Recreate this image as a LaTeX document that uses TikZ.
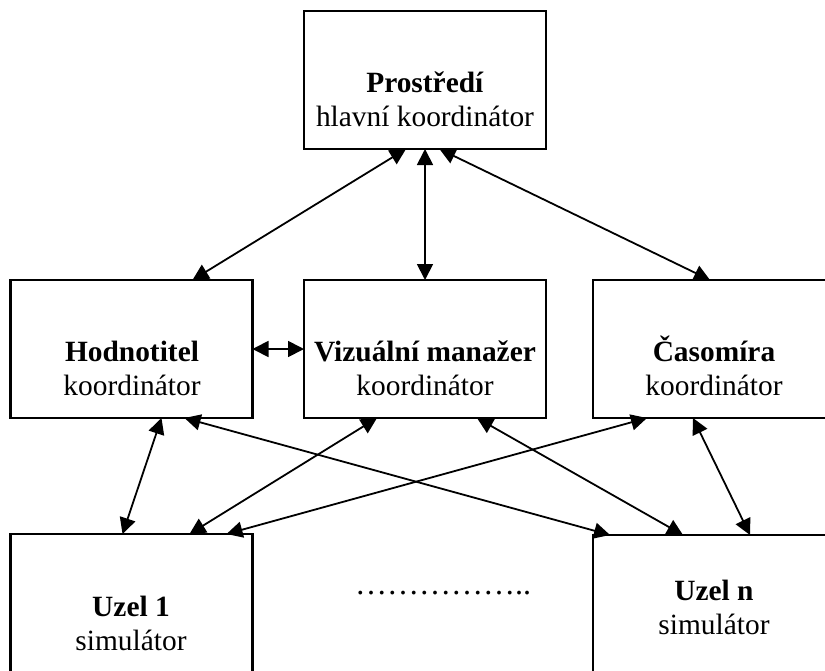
\documentclass[tikz,border=0pt]{standalone}
\usepackage{fontspec}
\setmainfont{Liberation Serif}
\usetikzlibrary{arrows.meta,calc}
% two-line caption: bold name over a plain role
\newcommand\boxtext[2]{\begin{tabular}[t]{@{}c@{}}\textbf{#1}\\#2\end{tabular}}
\begin{document}
\begin{tikzpicture}[x=1pt,y=-1pt,
  box/.style={draw,line width=2.2pt,minimum width=242pt,minimum height=138pt,inner sep=0pt,outer sep=0pt},
  caption/.style={anchor=base,inner sep=0pt,font=\fontsize{29.4}{34}\selectfont},
  link/.style={line width=1.8pt,{Triangle[length=16pt,width=16pt]}-{Triangle[length=16pt,width=16pt]}}]
\useasboundingbox (0,0) rectangle (825,670);

% boxes
\node[box] (P)  at (425,80)    {};
\node[box] (H)  at (131.5,349) {};
\node[box] (V)  at (425,349)   {};
\node[box] (C)  at (714,349)   {};
\node[box] (U1) at (131.5,603) {};
\node[box] (Un) at (714,604)   {};

% captions
\node[caption] (Pt)  at (425,92)  {\boxtext{Prostředí}{hlavní koordinátor}};
\node[caption] (Ht)  at (132,361) {\boxtext{Hodnotitel}{koordinátor}};
\node[caption] (Vt)  at (425,361) {\boxtext{Vizuální manažer}{koordinátor}};
\node[caption] (Ct)  at (714,361) {\boxtext{Časomíra}{koordinátor}};
\node[caption] (U1t) at (131,616) {\boxtext{Uzel 1}{simulátor}};
\node[caption] (Unt) at (714,600) {\boxtext{Uzel n}{simulátor}};
\node[anchor=base,inner sep=0pt,font=\fontsize{32}{36}\selectfont] (dots) at (443,594) {……………..};

% links from the environment
\draw[link] ($(P.south west)+(102,0)$) -- ($(H.north west)+(182,0)$);
\draw[link] (P.south) -- (V.north);
\draw[link] ($(P.south west)+(135.5,0)$) -- ($(C.north west)+(117,0)$);
\draw[link] (H.east) -- (V.west);

% links between coordinators and simulators
\draw[link] ($(H.south west)+(151,0)$) -- ($(U1.north west)+(112,0)$);
\draw[link] ($(H.south west)+(174,0)$) -- ($(Un.north west)+(17,0)$);
\draw[link] ($(V.south west)+(73,0)$)  -- ($(U1.north west)+(179,0)$);
\draw[link] ($(V.south west)+(173,0)$) -- ($(Un.north west)+(90,0)$);
\draw[link] ($(C.south west)+(54,0)$)  -- ($(U1.north west)+(216,0)$);
\draw[link] ($(C.south west)+(100,0)$) -- ($(Un.north west)+(157,0)$);
\end{tikzpicture}
\end{document}
